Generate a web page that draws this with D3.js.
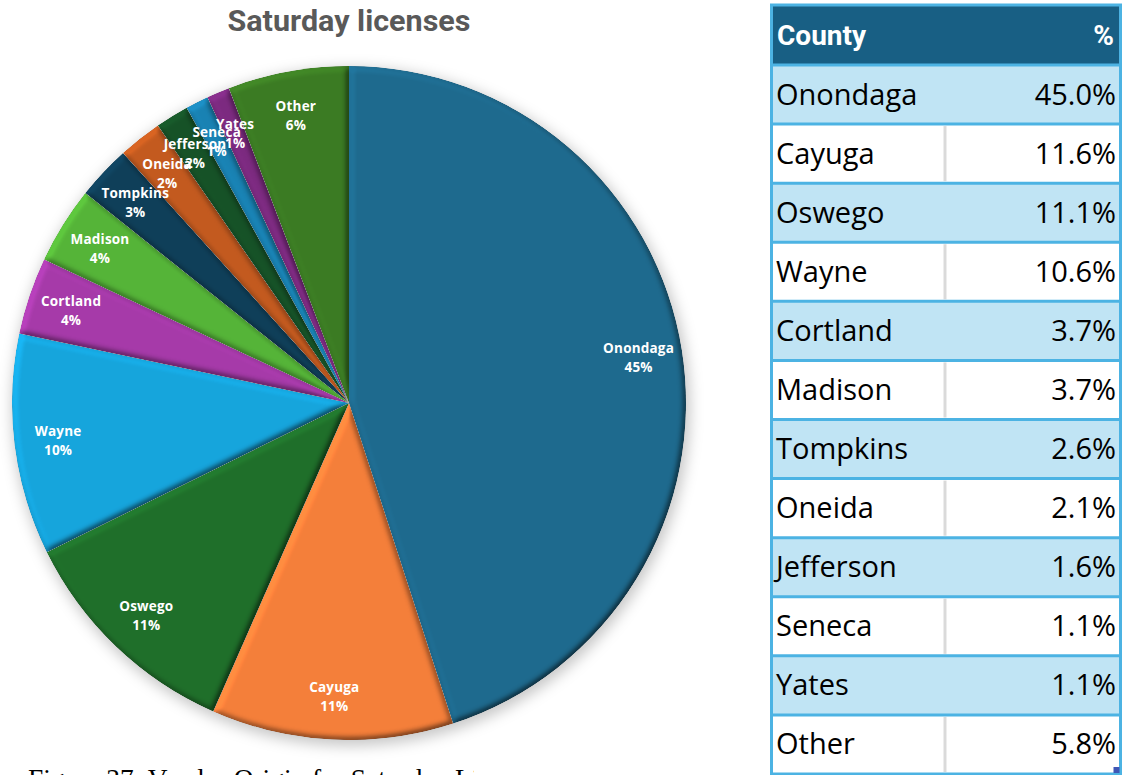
<!DOCTYPE html>
<html>
<head>
<meta charset="utf-8">
<script src="https://cdn.jsdelivr.net/npm/d3@7"></script>
<style>
  html, body { margin: 0; padding: 0; background: #ffffff; }
  svg { display: block; }
</style>
</head>
<body>
<svg id="chart" width="1122" height="775"></svg>
<script>
// Saturday licenses by county of origin
const counties = ["Onondaga", "Cayuga", "Oswego", "Wayne", "Cortland", "Madison",
                  "Tompkins", "Oneida", "Jefferson", "Seneca", "Yates", "Other"];
const shares = [45.0, 11.6, 11.1, 10.6, 3.7, 3.7, 2.6, 2.1, 1.6, 1.1, 1.1, 5.8];
// rounded percentages printed on the slices
const sliceLabels = ["45%", "11%", "11%", "10%", "4%", "4%", "3%", "2%", "2%", "1%", "1%", "6%"];
const sliceColors = ["#1e6a8e", "#f57f3a", "#1f6f2a", "#16a5dd", "#a63aa9", "#55b438",
                     "#0f3f59", "#c35a1f", "#165227", "#1982b3", "#7c2a80", "#3b7b23"];
const tableHeaders = ["County", "%"];

const data = counties.map((c, i) => ({ county: c, share: shares[i], label: sliceLabels[i], color: sliceColors[i] }));

const svg = d3.select("#chart");
const defs = svg.append("defs");

// soft shadow behind the pie
const shadow = defs.append("filter").attr("id", "pieShadow")
  .attr("x", "-10%").attr("y", "-10%").attr("width", "120%").attr("height", "120%");
shadow.append("feGaussianBlur").attr("stdDeviation", 7);

// rounded bevel on each slice: blurred alpha used as a height map and lit from the top-left
const bevel = defs.append("filter").attr("id", "bevel")
  .attr("filterUnits", "userSpaceOnUse")
  .attr("x", -420).attr("y", -420).attr("width", 840).attr("height", 840)
  .attr("color-interpolation-filters", "sRGB");
bevel.append("feGaussianBlur").attr("in", "SourceAlpha").attr("stdDeviation", 3).attr("result", "b");
bevel.append("feDiffuseLighting").attr("in", "b").attr("surfaceScale", 2.8)
  .attr("diffuseConstant", 1.039).attr("lighting-color", "#ffffff").attr("result", "light")
  .append("feDistantLight").attr("azimuth", 225).attr("elevation", 60);
bevel.append("feComposite").attr("in", "SourceGraphic").attr("in2", "light")
  .attr("operator", "arithmetic").attr("k1", 1.111).attr("k2", 0).attr("k3", 0).attr("k4", 0)
  .attr("result", "lit");
bevel.append("feComposite").attr("in", "lit").attr("in2", "SourceAlpha").attr("operator", "in");

// ---- title ----
svg.append("text")
  .attr("x", 349).attr("y", 31)
  .attr("text-anchor", "middle")
  .attr("font-family", "Roboto, 'Open Sans', sans-serif")
  .attr("font-weight", 700)
  .attr("font-size", 29)
  .attr("fill", "#595959")
  .attr("textLength", 243)
  .attr("lengthAdjust", "spacingAndGlyphs")
  .text("Saturday licenses");

// ---- pie ----
const cx = 349, cy = 403, R = 337;
const g = svg.append("g").attr("transform", `translate(${cx},${cy})`);

g.append("circle")
  .attr("cx", 2).attr("cy", 4).attr("r", R + 2)
  .attr("fill", "rgba(0,0,0,0.22)")
  .attr("filter", "url(#pieShadow)");

const pie = d3.pie().sort(null).value(d => d.share);
const arcs = pie(data);
const arc = d3.arc().innerRadius(0).outerRadius(R);
const labelArc = d3.arc().innerRadius(R * 0.87).outerRadius(R * 0.87);

g.selectAll("path.slice")
  .data(arcs)
  .join("path")
  .attr("class", "slice")
  .attr("d", arc)
  .attr("fill", d => d.data.color)
  .attr("filter", "url(#bevel)");

const labels = g.selectAll("text.slice-label")
  .data(arcs)
  .join("text")
  .attr("class", "slice-label")
  .attr("transform", d => `translate(${labelArc.centroid(d)})`)
  .attr("text-anchor", "middle")
  .attr("font-family", "'Open Sans', 'Noto Sans', sans-serif")
  .attr("font-weight", 700)
  .attr("font-size", 13.5)
  .attr("letter-spacing", 0.2)
  .attr("fill", "#ffffff");
labels.append("tspan").attr("x", 0).attr("y", -4).text(d => d.data.county);
labels.append("tspan").attr("x", 0).attr("y", 15).text(d => d.data.label);

// ---- caption (sits in a frame narrower than its text) ----
defs.append("clipPath").attr("id", "captionClip")
  .append("rect").attr("x", 0).attr("y", 740).attr("width", 474).attr("height", 60);
svg.append("text")
  .attr("clip-path", "url(#captionClip)")
  .attr("x", 28).attr("y", 788)
  .attr("font-family", "'Liberation Serif', 'Times New Roman', serif")
  .attr("font-size", 27.4)
  .attr("fill", "#000000")
  .text("Figure 37: Vendor Origin for Saturday Licenses");

// ---- table ----
const tX0 = 771.5, tX1 = 1120.5, colX = 945;
const headerTop = 5, headerBottom = 65, tableBottom = 774;
const rowBand = d3.scaleBand().domain(counties).range([headerBottom, tableBottom]);
const fmt = d3.format(".1f");
const borderColor = "#4cb3e3";

const table = svg.append("g").attr("class", "table");

table.append("rect")
  .attr("x", tX0).attr("y", headerTop)
  .attr("width", tX1 - tX0).attr("height", headerBottom - headerTop)
  .attr("fill", "#185f84");

const rows = table.selectAll("g.row")
  .data(data)
  .join("g")
  .attr("class", "row")
  .attr("transform", d => `translate(0,${rowBand(d.county)})`);

rows.append("rect")
  .attr("x", tX0).attr("y", 0)
  .attr("width", tX1 - tX0).attr("height", rowBand.bandwidth())
  .attr("fill", (d, i) => i % 2 === 0 ? "#c0e4f4" : "#ffffff");

// column divider shows on the white rows
rows.filter((d, i) => i % 2 === 1)
  .append("line")
  .attr("x1", colX).attr("x2", colX)
  .attr("y1", 2).attr("y2", rowBand.bandwidth() - 2)
  .attr("stroke", "#dadada").attr("stroke-width", 3);

rows.append("text")
  .attr("x", 776).attr("y", rowBand.bandwidth() / 2 + 10)
  .attr("font-family", "'Open Sans', 'Noto Sans', sans-serif")
  .attr("font-size", 29)
  .attr("fill", "#000000")
  .text(d => d.county);

rows.append("text")
  .attr("x", 1116).attr("y", rowBand.bandwidth() / 2 + 10)
  .attr("text-anchor", "end")
  .attr("font-family", "'Open Sans', 'Noto Sans', sans-serif")
  .attr("font-size", 29)
  .attr("fill", "#000000")
  .text(d => fmt(d.share) + "%");

// horizontal rules between rows
table.selectAll("line.rule")
  .data(counties)
  .join("line")
  .attr("class", "rule")
  .attr("x1", tX0).attr("x2", tX1)
  .attr("y1", d => rowBand(d)).attr("y2", d => rowBand(d))
  .attr("stroke", borderColor).attr("stroke-width", 3);

// header text
table.append("text")
  .attr("x", 777).attr("y", (headerTop + headerBottom) / 2 + 10)
  .attr("font-family", "Roboto, 'Open Sans', sans-serif")
  .attr("font-weight", 700).attr("font-size", 28)
  .attr("fill", "#ffffff")
  .text(tableHeaders[0]);
table.append("text")
  .attr("x", 1114).attr("y", (headerTop + headerBottom) / 2 + 10)
  .attr("text-anchor", "end")
  .attr("font-family", "Roboto, 'Open Sans', sans-serif")
  .attr("font-weight", 700).attr("font-size", 28)
  .attr("fill", "#ffffff")
  .text(tableHeaders[1]);

// outer frame
table.append("rect")
  .attr("x", tX0).attr("y", headerTop)
  .attr("width", tX1 - tX0).attr("height", tableBottom - headerTop)
  .attr("fill", "none")
  .attr("stroke", borderColor).attr("stroke-width", 3);

// resize handle in the bottom-right corner
table.append("rect")
  .attr("x", tX1 - 7).attr("y", tableBottom - 7)
  .attr("width", 6).attr("height", 6)
  .attr("fill", "#3f56b5");
</script>
</body>
</html>
